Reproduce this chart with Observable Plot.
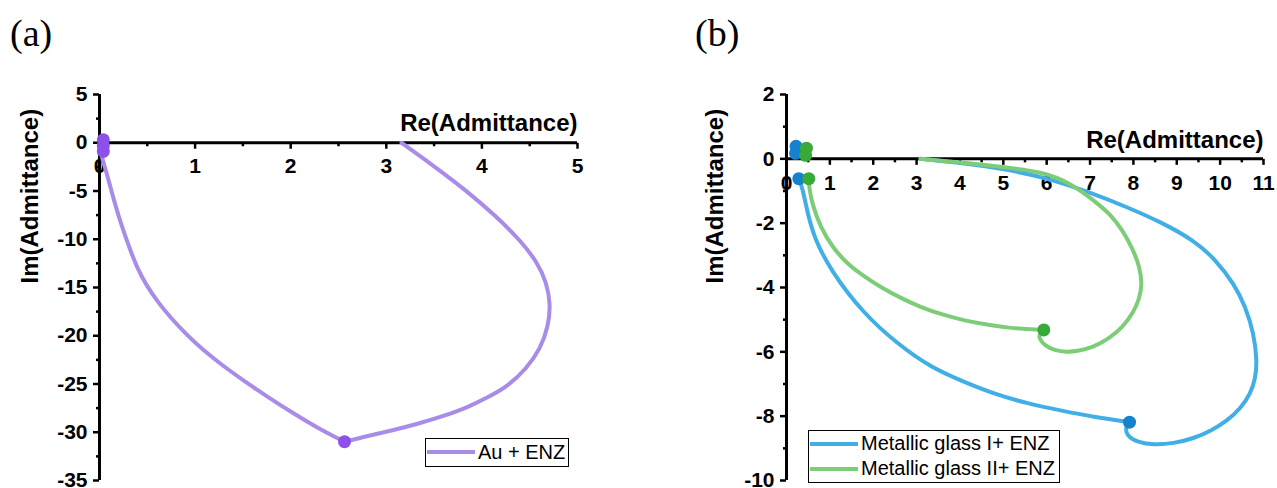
<!DOCTYPE html>
<html><head><meta charset="utf-8">
<script src="https://cdn.jsdelivr.net/npm/d3@7"></script>
<script src="https://cdn.jsdelivr.net/npm/@observablehq/plot@0.6"></script>
<style>
body{margin:0;background:#fff;}
#wrap{position:relative;width:1277px;height:488px;overflow:hidden;font-family:"Liberation Sans",Arial,sans-serif;}
.panel{position:absolute;top:0;}
.tag{position:absolute;font-family:"Liberation Serif","Times New Roman",serif;font-size:38px;line-height:38px;}
.legend{position:absolute;border:1.5px solid #000;background:#fff;font-size:20px;box-sizing:border-box;padding:0 2px 0 1px;}
.row{display:flex;align-items:center;height:25px;white-space:nowrap;}
.swatch{width:48px;height:4px;margin-right:3px;flex:none;}
</style></head>
<body>
<div id="wrap"></div>
<script>
// ---------- data ----------
const panelTags = ["(a)", "(b)"];
const xTitle = "Re(Admittance)";
const yTitle = "Im(Admittance)";

// Panel (a): Au + ENZ
const auName = "Au + ENZ";
const auRe = [3.159, 3.494, 3.839, 4.153, 4.404, 4.582, 4.676, 4.718, 4.697, 4.613, 4.467, 4.268, 4.059, 3.849, 3.588, 3.326, 3.065, 2.803, 2.563,
  2.291, 2.029, 1.768, 1.506, 1.287, 1.088, 0.910, 0.743, 0.607, 0.492, 0.397, 0.324, 0.241, 0.167, 0.105, 0.052, 0.021, 0.010];
const auIm = [0, -2.38, -4.97, -7.66, -10.14, -12.42, -14.49, -16.67, -18.94, -21.33, -23.40, -25.26, -26.40, -27.43, -28.36, -29.14, -29.81, -30.38, -30.98,
  -29.61, -28.05, -26.40, -24.64, -23.08, -21.53, -19.88, -18.12, -16.46, -14.80, -13.04, -11.18, -8.90, -6.52, -4.24, -2.38, -1.35, -0.62];
const auDotRe = [2.563, 0.04, 0.04, 0.04];
const auDotIm = [-30.98, 0.3, -0.3, -0.9];

// Panel (b): metallic glasses
const mg1Name = "Metallic glass I+ ENZ";
const mg1Re = [3.090, 4.013, 4.935, 5.927, 6.896, 7.857, 8.672, 9.393, 9.894, 10.316, 10.586, 10.777, 10.851, 10.816, 10.701, 10.470, 10.171, 9.802, 9.387, 8.925, 8.464, 8.095, 7.841, 7.818, 7.910,
  7.080, 6.319, 5.558, 4.820, 4.013, 3.321, 2.560, 1.776, 1.015, 0.630, 0.484, 0.362, 0.284];
const mg1Im = [0, -0.124, -0.295, -0.566, -0.995, -1.499, -1.991, -2.535, -3.126, -3.882, -4.588, -5.437, -6.268, -6.827, -7.303, -7.760, -8.134, -8.445, -8.694, -8.849, -8.896, -8.818, -8.600, -8.351, -8.187,
  -8.025, -7.823, -7.605, -7.325, -6.890, -6.476, -5.754, -4.815, -3.468, -2.432, -1.664, -0.877, -0.616];
const mg1DotRe = [7.91, 0.284, 0.22, 0.21];
const mg1DotIm = [-8.187, -0.616, 0.39, 0.17];

const mg2Name = "Metallic glass II+ ENZ";
const mg2Re = [3.090, 4.013, 4.975, 5.927, 6.550, 7.087, 7.472, 7.749, 7.980, 8.141, 8.203, 8.141, 8.003, 7.749, 7.426, 7.080, 6.734, 6.458, 6.181, 5.950, 5.823, 5.835, 5.934,
  5.512, 5.090, 4.589, 4.089, 3.575, 3.090, 2.629, 2.168, 1.753, 1.400, 1.061, 0.784, 0.600, 0.519, 0.514];
const mg2Im = [0, -0.109, -0.249, -0.411, -0.762, -1.291, -1.726, -2.224, -2.784, -3.344, -3.882, -4.339, -4.774, -5.241, -5.599, -5.848, -5.972, -6.009, -5.956, -5.801, -5.583, -5.428, -5.319,
  -5.288, -5.250, -5.148, -5.023, -4.837, -4.610, -4.323, -3.987, -3.624, -3.260, -2.753, -2.121, -1.446, -0.877, -0.616];
const mg2DotRe = [5.934, 0.514, 0.46, 0.44];
const mg2DotIm = [-5.319, -0.616, 0.33, 0.11];

// ticks
const aXTicks = [0, 1, 2, 3, 4, 5];
const aXMinor = [0.5, 1.5, 2.5, 3.5, 4.5];
const aYTicks = [5, 0, -5, -10, -15, -20, -25, -30, -35];
const aYMinor = [2.5, -2.5, -7.5, -12.5, -17.5, -22.5, -27.5, -32.5];
const bXTicks = [0, 1, 2, 3, 4, 5, 6, 7, 8, 9, 10, 11];
const bXMinor = [0.5, 1.5, 2.5, 3.5, 4.5, 5.5, 6.5, 7.5, 8.5, 9.5, 10.5];
const bYTicks = [2, 0, -2, -4, -6, -8, -10];
const bYMinor = [1, -1, -3, -5, -7, -9];

// colours
const auLine = "#a88ce8", auDot = "#8c50eb";
const mg1Line = "#41afe6", mg1Dot = "#1482cd";
const mg2Line = "#7dcd78", mg2Dot = "#37aa37";

// ---------- drawing ----------
const tickDown = {draw(ctx, size) { const r = Math.sqrt(size / Math.PI); ctx.moveTo(0, 0); ctx.lineTo(0, r); }};
// split each trace into two segments at its main marker (a corner in the trace)
function segments(xs, ys, mx, my) {
  const k = xs.findIndex((x, i) => x === mx && ys[i] === my);
  const out = [];
  xs.forEach((x, i) => {
    if (i <= k) out.push({x, y: ys[i], seg: 0});
    if (i >= k) out.push({x, y: ys[i], seg: 1});
  });
  return out;
}
const pts = (xs, ys) => xs.map((x, i) => ({x, y: ys[i]}));

function panel(cfg) {
  const [xMin, xMax] = [cfg.xTicks[0], cfg.xTicks[cfg.xTicks.length - 1]];
  const yMax = cfg.yTicks[0], yMin = cfg.yTicks[cfg.yTicks.length - 1];
  const marks = [
    Plot.axisY(cfg.yMinor, {tickSize: 3, tickFormat: () => "", strokeWidth: 2.5, label: null}),
    Plot.axisY(cfg.yTicks, {tickSize: 6, tickPadding: 6, fontSize: 21, strokeWidth: 2.5, tickFormat: d => String(d), label: null}),
    Plot.ruleX([xMin], {y1: yMin, y2: yMax, strokeWidth: 3, stroke: "black"}),
    Plot.ruleY([0], {x1: xMin, x2: xMax, strokeWidth: 3, stroke: "black"}),
    Plot.dot(cfg.xTicks, {x: d => d, y: 0, symbol: tickDown, r: 6, stroke: "black", fill: "none", strokeWidth: 2.5}),
    Plot.dot(cfg.xMinor, {x: d => d, y: 0, symbol: tickDown, r: 3.5, stroke: "black", fill: "none", strokeWidth: 2.5}),
    Plot.text(cfg.xTicks, {x: d => d, y: 0, dy: 24, text: d => String(d), fontSize: 21}),
    Plot.text([xTitle], {x: () => xMax, y: () => 0, dy: -19, textAnchor: "end", text: d => d, fontSize: 24}),
    Plot.text([yTitle], {frameAnchor: "left", rotate: -90, dx: cfg.yTitleDx, dy: -4, text: d => d, fontSize: 24})
  ];
  for (const s of cfg.series) {
    marks.push(Plot.line(segments(s.re, s.im, s.dotRe[0], s.dotIm[0]), {x: "x", y: "y", z: "seg", stroke: s.line, strokeWidth: 4, curve: "basis"}));
  }
  for (const s of cfg.series) {
    marks.push(Plot.dot(pts(s.dotRe, s.dotIm), {x: "x", y: "y", r: 6.5, fill: s.dot, stroke: "none"}));
  }
  return Plot.plot({
    width: cfg.width, height: 488,
    marginLeft: cfg.ml, marginRight: cfg.mr, marginTop: 94, marginBottom: 8,
    x: {domain: [xMin, xMax], axis: null},
    y: {domain: [yMin, yMax], axis: null},
    style: {fontFamily: "'Liberation Sans', Arial, sans-serif", fontWeight: "bold", color: "black", background: "transparent", overflow: "visible"},
    marks
  });
}

const wrap = document.getElementById("wrap");

const pa = panel({width: 640, ml: 99, mr: 63, xTicks: aXTicks, xMinor: aXMinor, yTicks: aYTicks, yMinor: aYMinor, yTitleDx: -69,
  series: [{re: auRe, im: auIm, dotRe: auDotRe, dotIm: auDotIm, line: auLine, dot: auDot}]});
pa.classList.add("panel"); pa.style.left = "0px";
wrap.appendChild(pa);

const pb = panel({width: 637, ml: 146, mr: 14, xTicks: bXTicks, xMinor: bXMinor, yTicks: bYTicks, yMinor: bYMinor, yTitleDx: -71,
  series: [
    {re: mg1Re, im: mg1Im, dotRe: mg1DotRe, dotIm: mg1DotIm, line: mg1Line, dot: mg1Dot},
    {re: mg2Re, im: mg2Im, dotRe: mg2DotRe, dotIm: mg2DotIm, line: mg2Line, dot: mg2Dot}
  ]});
pb.classList.add("panel"); pb.style.left = "640px";
wrap.appendChild(pb);

// panel tags
[[panelTags[0], 10], [panelTags[1], 695]].forEach(([t, left]) => {
  const d = document.createElement("div");
  d.className = "tag"; d.textContent = t; d.style.left = left + "px"; d.style.top = "14px";
  wrap.appendChild(d);
});

// legends
function legend(items, left, top, width, height) {
  const box = document.createElement("div");
  box.className = "legend";
  Object.assign(box.style, {left: left + "px", top: top + "px", width: width + "px", height: height + "px"});
  items.forEach(([name, color]) => {
    const r = document.createElement("div"); r.className = "row";
    r.style.height = ((height - 3) / items.length) + "px";
    const sw = document.createElement("div"); sw.className = "swatch"; sw.style.background = color;
    const tx = document.createElement("span"); tx.textContent = name;
    r.appendChild(sw); r.appendChild(tx); box.appendChild(r);
  });
  wrap.appendChild(box);
}
legend([[auName, auLine]], 425, 438, 144, 29);
legend([[mg1Name, mg1Line], [mg2Name, mg2Line]], 808, 430, 252, 53);
</script>
</body></html>
